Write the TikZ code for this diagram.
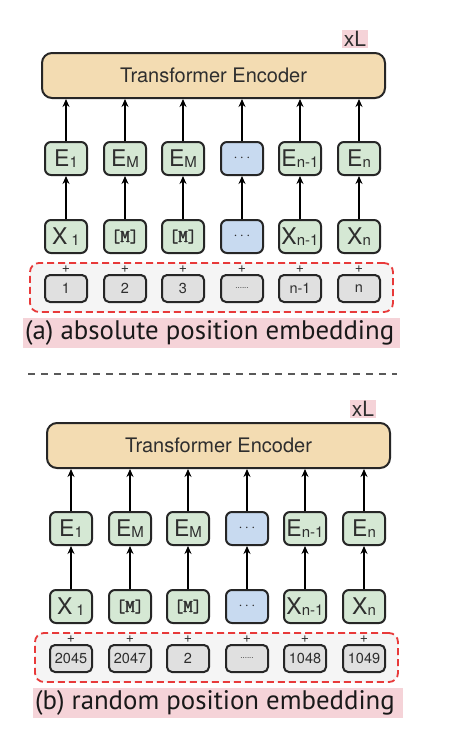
\documentclass[tikz,border=0pt]{standalone}
\usepackage{fontspec}
\setmainfont{TeX Gyre Heros}
\newfontfamily\capfont{PT Sans}
\newfontfamily\mfont[FakeBold=2.2]{Latin Modern Mono}
\usetikzlibrary{arrows.meta}
\definecolor{bdr}{HTML}{262626}
\definecolor{tan}{HTML}{F3DCB2}
\definecolor{grn}{HTML}{D5E8D4}
\definecolor{blu}{HTML}{C8DAF0}
\definecolor{gbox}{HTML}{E0E0E0}
\definecolor{gfill}{HTML}{F5F5F5}
\definecolor{redd}{HTML}{E83A3A}
\definecolor{pinkbg}{HTML}{F5D3D8}
\definecolor{txt}{HTML}{2E2E2E}
\newcommand\fs[1]{\fontsize{#1}{#1}\selectfont}
\newcommand\sub[1]{\raisebox{-1.5pt}{\fs{15}#1}}
\tikzset{
  tok/.style={draw=bdr, line width=2pt, rounded corners=6pt, minimum width=42pt,
    minimum height=33pt, inner sep=0pt, text=txt, font=\fs{23}},
  posbox/.style={draw=bdr, line width=2pt, rounded corners=5pt, minimum width=42pt,
    minimum height=27pt, inner sep=0pt, fill=gbox, text=txt, font=\fs{14.5}},
  enc/.style={draw=bdr, line width=2pt, rounded corners=10pt, fill=tan,
    minimum width=343pt, minimum height=45pt, inner sep=0pt, text=txt, font=\fs{20}},
  xlbox/.style={fill=pinkbg, inner sep=1.5pt, text=txt, font=\fs{21}},
  plus/.style={inner sep=0pt, text=txt, font=\fs{14}},
  grp/.style={draw=redd, fill=gfill, line width=1.8pt, dash pattern=on 7pt off 4pt,
    rounded corners=9pt, inner sep=0pt},
  arr/.style={draw=black, line width=1.8pt, -{Stealth[length=8pt,width=7pt]}},
  sepline/.style={draw=black!65, line width=1.8pt, dash pattern=on 7pt off 6pt},
  captxt/.style={anchor=west, inner sep=0pt, text=black!90, font=\capfont\fs{26.8}},
}
% #1 prefix, #2 dx, #3 dy, #4 caption, #5 capbg left, #6 capbg right, #7 xL x, #8 pos labels
\newcommand\drawpanel[8]{%
\begin{scope}[shift={(#2,#3)}]
  \node[xlbox] (#1-xl) at (#7,39) {xL};
  \node[enc] (#1-enc) at (213.5,75.5) {Transformer Encoder};
  \node[grp, minimum width=363pt, minimum height=49pt] (#1-grp) at (211.5,287.5) {};
  \foreach \i/\el/\xl/\fc/\cx in {0/{E\sub{1}}/{X\,\sub{1}}/grn/66,
      1/{E\sub{M}}/{\mfont\fs{18}[M]}/grn/125,
      2/{E\sub{M}}/{\mfont\fs{18}[M]}/grn/183,
      3/{\fs{15}$\cdots$}/{\fs{15}$\cdots$}/blu/242,
      4/{E\sub{n-1}}/{X\sub{n-1}}/grn/300,
      5/{E\sub{n}}/{X\sub{n}}/grn/359}{
    \node[tok, fill=\fc] (#1-e\i) at (\cx,158.5) {\el};
    \node[tok, fill=\fc] (#1-x\i) at (\cx,236.5) {\xl};
    \draw[arr] (#1-x\i.north) -- (#1-e\i.south);
    \draw[arr] (#1-e\i.north) -- (#1-e\i.north |- #1-enc.south);
  }
  \foreach \i/\lab/\cx in {#8}{
    \node[posbox] (#1-p\i) at (\cx,288.5) {\lab};
    \node[plus] (#1-plus\i) at (\cx,269) {+};
  }
  \fill[pinkbg] (#5,318) rectangle (#6,348);
  \node[captxt] (#1-cap) at (#5+2,333) {#4};
\end{scope}}
\begin{document}
\begin{tikzpicture}[x=1pt,y=-1pt]
\useasboundingbox[fill=white] (0,0) rectangle (458,740);
\drawpanel{a}{0}{0}{(a) absolute position embedding}{23}{400}{355}{0/1/66,1/2/125,2/3/183,3/{\fs{8}......}/242,4/n-1/300,5/n/359}
\coordinate (s1) at (28,374);
\coordinate (s2) at (397,374);
\draw[sepline] (s1) -- (s2);
\drawpanel{b}{5}{370}{(b) random position embedding}{28}{398}{358}{0/2045/66,1/2047/125,2/2/183,3/{\fs{8}......}/242,4/1048/300,5/1049/359}
\end{tikzpicture}
\end{document}
